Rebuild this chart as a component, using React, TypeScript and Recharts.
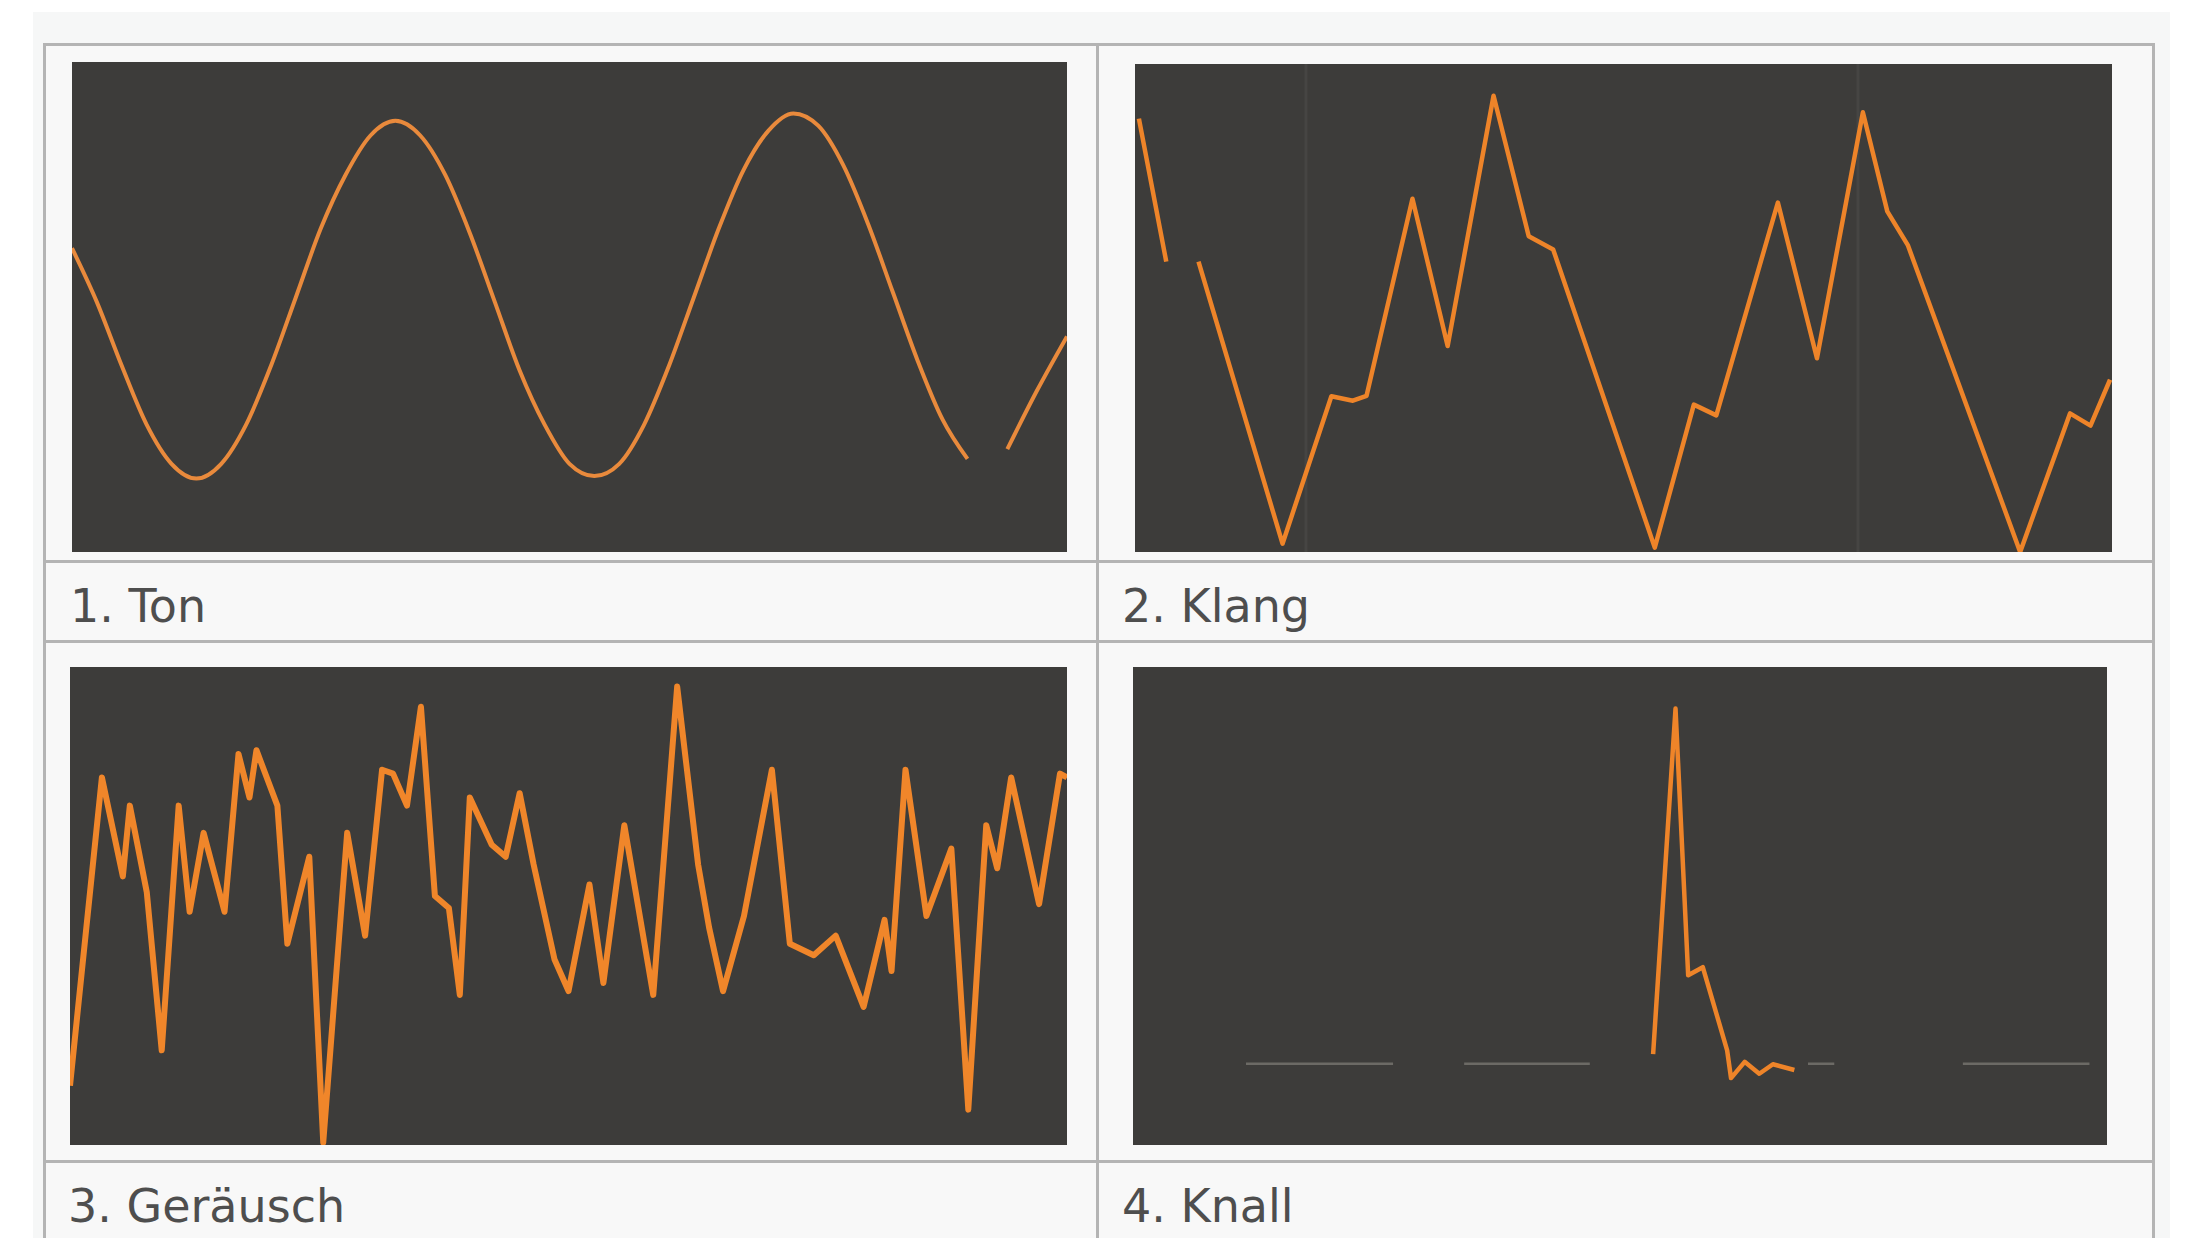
import React from "react";
import { LineChart, Line, XAxis, YAxis, ReferenceLine } from "recharts";

// 1. Ton — sine wave (x in % of panel width, y in % of panel height)
const tonX = [0, 2.5, 5, 7.5, 10, 12.5, 15, 17.5, 20, 22.5, 25, 27.5, 30, 32.5, 35, 37.5, 40, 42.5, 45, 47.5, 50, 52.5, 55, 57.5, 60, 62.5, 65, 67.5, 70, 72.5, 75, 77.5, 80, 82.5, 85, 87.5, 90, 92, 94, 97, 100];
const tonY = [62, 51, 38, 26, 18, 15, 18, 26, 38, 52, 66, 77, 85, 88, 85, 77, 65, 51, 37, 26, 18, 15.5, 18, 26, 38, 52, 66, 78, 86, 89.5, 87, 79, 67, 53, 39, 27, 19, null, 21, 33, 44];

// 2. Klang — composite wave
const klangX = [0.4, 3.2, 4.8, 6.5, 15.1, 20.1, 22.3, 23.7, 28.4, 32, 36.7, 40.3, 42.8, 53.2, 57.2, 59.5, 65.8, 69.8, 74.5, 77, 79.1, 90.6, 95.7, 97.8, 99.8];
const klangY = [88.8, 59.5, null, 59.5, 1.7, 31.9, 31, 32, 72.4, 42.2, 93.5, 64.7, 62, 0.9, 30.2, 28, 71.6, 39.7, 90.1, 69.8, 62.9, 0, 28.4, 25.9, 35.3];

// 3. Geräusch — noise
const noiseX = [0, 3.2, 5.3, 6, 7.7, 9.2, 10.9, 12, 13.4, 15.5, 16.9, 18, 18.7, 20.8, 21.8, 24, 25.4, 27.8, 29.6, 31.3, 32.4, 33.8, 35.2, 36.6, 38, 39.1, 40.1, 42.3, 43.7, 45.1, 46.5, 48.6, 50, 52.1, 53.5, 55.6, 58.5, 60.9, 63, 64.1, 65.5, 67.6, 70.4, 72.2, 74.6, 76.8, 79.6, 81.7, 82.4, 83.8, 85.9, 88.4, 90.1, 91.9, 93, 94.4, 97.2, 99.3, 100];
const noiseY = [12.4, 76.9, 56.2, 71, 52.9, 19.8, 71, 48.8, 65.3, 48.8, 81.8, 72.7, 82.6, 71, 42.1, 60.3, 0.5, 65.3, 43.8, 78.5, 77.7, 71, 91.7, 52.1, 49.6, 31.4, 72.7, 62.8, 60.3, 73.6, 58.7, 38.8, 32.2, 54.5, 33.9, 66.9, 31.4, 95.9, 58.7, 45.5, 32.2, 47.9, 78.5, 42.1, 39.7, 43.8, 28.9, 47.1, 36.4, 78.5, 47.9, 62, 7.4, 66.9, 57.9, 76.9, 50.4, 77.7, 76.9];

// 4. Knall — impulse
const knallX = [53.4, 55.7, 57, 58.5, 61, 61.4, 62.8, 64.3, 65.7, 67.9];
const knallY = [19, 91.3, 35.5, 37.2, 19.8, 14, 17.4, 14.9, 16.9, 15.7];
const knallBaseX = [11.6, 26.7, 30, 34, 46.9, 50, 69.3, 72, 78, 85.2, 98.2];
const knallBaseY = [17, 17, null, 17, 17, null, 17, 17, null, 17, 17];

const zip = (xs: number[], ys: (number | null)[]) => xs.map((x, i) => ({ x, y: ys[i] }));

const PANEL_BG = "#3d3c3a";
const ORANGE = "#ee8429";

type PanelProps = {
  left: number; top: number; width: number; height: number;
  data: { x: number; y: number | null }[];
  curve: "monotone" | "linear";
  strokeWidth: number;
  color?: string;
  extra?: { x: number; y: number | null }[];
  vlines?: number[];
};

function Panel({ left, top, width, height, data, curve, strokeWidth, color, extra, vlines }: PanelProps) {
  return (
    <div style={{ position: "absolute", left, top, width, height, background: PANEL_BG }}>
      <LineChart width={width} height={height} margin={{ top: 0, right: 0, bottom: 0, left: 0 }}>
        <XAxis dataKey="x" type="number" domain={[0, 100]} hide allowDataOverflow />
        <YAxis type="number" domain={[0, 100]} hide />
        {(vlines || []).map((v) => (
          <ReferenceLine key={v} x={v} stroke="#464543" strokeWidth={3} />
        ))}
        {extra && (
          <Line data={extra} dataKey="y" type="linear" stroke="#6c6a65" strokeWidth={2.5} dot={false} isAnimationActive={false} />
        )}
        <Line data={data} dataKey="y" type={curve} stroke={color || ORANGE} strokeWidth={strokeWidth} dot={false} isAnimationActive={false} strokeLinejoin="round" />
      </LineChart>
    </div>
  );
}

const labelStyle: React.CSSProperties = {
  position: "absolute",
  fontFamily: "'DejaVu Sans', Verdana, sans-serif",
  fontSize: 46,
  lineHeight: 1,
  color: "#4e4e4e",
  whiteSpace: "nowrap",
};

const BORDER = "#b4b4b4";

export default function App() {
  return (
    <div style={{ position: "absolute", left: 0, top: 0, width: 2192, height: 1238, background: "#ffffff", overflow: "hidden" }}>
      <div style={{ position: "absolute", left: 33, top: 12, width: 2137, height: 1226, background: "#f6f7f7" }} />
      <div style={{ position: "absolute", left: 43, top: 43, width: 2112, height: 1200, border: `3px solid ${BORDER}`, boxSizing: "border-box", background: "#f8f8f8" }} />
      <div style={{ position: "absolute", left: 1096, top: 43, width: 3, height: 1200, background: BORDER }} />
      <div style={{ position: "absolute", left: 43, top: 560, width: 2112, height: 3, background: BORDER }} />
      <div style={{ position: "absolute", left: 43, top: 640, width: 2112, height: 3, background: BORDER }} />
      <div style={{ position: "absolute", left: 43, top: 1160, width: 2112, height: 3, background: BORDER }} />

      <Panel left={72} top={62} width={995} height={490} data={zip(tonX, tonY)} curve="monotone" strokeWidth={4} color="#e98a3c" />
      <Panel left={1135} top={64} width={977} height={488} data={zip(klangX, klangY)} curve="linear" strokeWidth={4.5} vlines={[17.5, 74]} />
      <Panel left={70} top={667} width={997} height={478} data={zip(noiseX, noiseY)} curve="linear" strokeWidth={6} color="#f0862a" />
      <Panel left={1133} top={667} width={974} height={478} data={zip(knallX, knallY)} curve="linear" strokeWidth={4.5} extra={zip(knallBaseX, knallBaseY)} />

      <div style={{ ...labelStyle, left: 70, top: 583 }}>1. Ton</div>
      <div style={{ ...labelStyle, left: 1122, top: 583 }}>2. Klang</div>
      <div style={{ ...labelStyle, left: 68, top: 1183 }}>3. Geräusch</div>
      <div style={{ ...labelStyle, left: 1122, top: 1183 }}>4. Knall</div>
    </div>
  );
}
